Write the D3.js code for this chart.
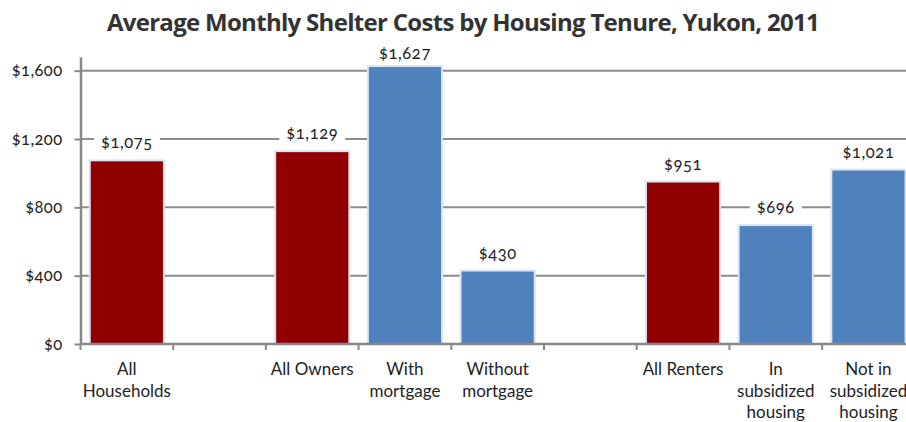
<!DOCTYPE html>
<html>
<head>
<meta charset="utf-8">
<script src="https://cdn.jsdelivr.net/npm/d3@7/dist/d3.min.js"></script>
<style>
  html, body { margin: 0; padding: 0; background: #fff; }
  svg { display: block; }
</style>
</head>
<body>
<svg id="chart" width="906" height="422"></svg>
<script>
// Average monthly shelter costs, Yukon 2011 (blank slots separate the groups)
const categories = [
  ["All", "Households"],
  [],
  ["All Owners"],
  ["With", "mortgage"],
  ["Without", "mortgage"],
  [],
  ["All Renters"],
  ["In", "subsidized", "housing"],
  ["Not in", "subsidized", "housing"]
];
const values = [1075, null, 1129, 1627, 430, null, 951, 696, 1021];
const isTotal = [true, false, true, false, false, false, true, false, false];
const yTicks = [0, 400, 800, 1200, 1600];
const title = "Average Monthly Shelter Costs by Housing Tenure, Yukon, 2011";

const svg = d3.select("#chart");
const plotLeft = 80.5, plotBottom = 344, plotTop = 57;
const step = 92.7;

const x = d3.scaleBand()
  .domain(d3.range(categories.length))
  .range([plotLeft, plotLeft + step * categories.length])
  .paddingInner(0.2)
  .paddingOuter(0.1);
const y = d3.scaleLinear().domain([0, 1680]).range([plotBottom, plotTop]);

const fmt = v => "$" + d3.format(",")(v);
const labelFont = "Lato, 'Open Sans', sans-serif";

// Title
svg.append("text")
  .attr("x", 463).attr("y", 31)
  .attr("text-anchor", "middle")
  .attr("font-family", "'Open Sans', Lato, sans-serif")
  .attr("font-weight", "bold")
  .attr("font-size", 24)
  .attr("letter-spacing", -0.7)
  .attr("fill", "#333")
  .text(title);

// Gridlines
svg.append("g")
  .selectAll("line")
  .data(yTicks.filter(t => t > 0))
  .join("line")
  .attr("x1", plotLeft).attr("x2", 906)
  .attr("y1", d => y(d)).attr("y2", d => y(d))
  .attr("stroke", "#8c8c8c").attr("stroke-width", 2);

// Y axis
const yAxis = svg.append("g")
  .attr("transform", `translate(${plotLeft},0)`)
  .call(d3.axisLeft(y).tickValues(yTicks).tickFormat(fmt).tickSize(6).tickSizeOuter(0));
yAxis.select(".domain").attr("stroke", "#888").attr("stroke-width", 2.5);
yAxis.selectAll(".tick line").attr("stroke", "#888").attr("stroke-width", 2);
yAxis.selectAll(".tick text")
  .attr("x", -18)
  .attr("font-family", labelFont)
  .attr("font-size", 16.5)
  .attr("letter-spacing", 0.4)
  .style("font-variant-numeric", "oldstyle-nums")
  .attr("fill", "#222");

// Bars
svg.append("g")
  .selectAll("rect")
  .data(values.map((v, i) => ({ v, i })).filter(d => d.v != null))
  .join("rect")
  .attr("x", d => x(d.i))
  .attr("y", d => y(d.v))
  .attr("width", x.bandwidth())
  .attr("height", d => y(0) - y(d.v))
  .attr("fill", d => isTotal[d.i] ? "#900000" : "#4f81bd")
  .attr("stroke", "#dbe5f1")
  .attr("stroke-width", 2);

// X axis baseline and category ticks
const xg = svg.append("g");
xg.append("line")
  .attr("x1", plotLeft).attr("x2", 906)
  .attr("y1", plotBottom).attr("y2", plotBottom)
  .attr("stroke", "#888").attr("stroke-width", 2.5);
xg.selectAll("line.tick")
  .data(d3.range(categories.length + 1))
  .join("line")
  .attr("class", "tick")
  .attr("x1", i => plotLeft + i * x.step()).attr("x2", i => plotLeft + i * x.step())
  .attr("y1", plotBottom).attr("y2", plotBottom + 6)
  .attr("stroke", "#888").attr("stroke-width", 2);

// Category labels
const catText = xg.selectAll("text.cat")
  .data(categories.map((lines, i) => ({ lines, i })))
  .join("text")
  .attr("class", "cat")
  .attr("text-anchor", "middle")
  .attr("font-family", labelFont)
  .attr("font-size", 17)
  .attr("fill", "#222");
catText.selectAll("tspan")
  .data(d => d.lines.map(l => ({ l, i: d.i })))
  .join("tspan")
  .attr("x", d => x(d.i) + x.bandwidth() / 2)
  .attr("y", (d, k) => 375 + k * 21.5)
  .text(d => d.l);

// Value labels with white backing that breaks the gridlines;
// labels are kept inside the chart area near the top
const labels = svg.append("g")
  .selectAll("g")
  .data(values.map((v, i) => ({ v, i })).filter(d => d.v != null))
  .join("g")
  .attr("transform", d => `translate(${x(d.i) + x.bandwidth() / 2},${Math.max(y(d.v) - 18, 53)})`);
labels.append("text")
  .attr("text-anchor", "middle")
  .attr("dominant-baseline", "central")
  .attr("font-family", labelFont)
  .attr("font-size", 16.5)
  .attr("letter-spacing", 0.6)
  .style("font-variant-numeric", "oldstyle-nums")
  .attr("fill", "#222")
  .text(d => fmt(d.v));
labels.each(function () {
  const g = d3.select(this);
  const bb = g.select("text").node().getBBox();
  g.insert("rect", "text")
    .attr("x", bb.x - 7).attr("y", bb.y - 1)
    .attr("width", bb.width + 14).attr("height", bb.height + 2)
    .attr("fill", "#fff");
});
</script>
</body>
</html>
